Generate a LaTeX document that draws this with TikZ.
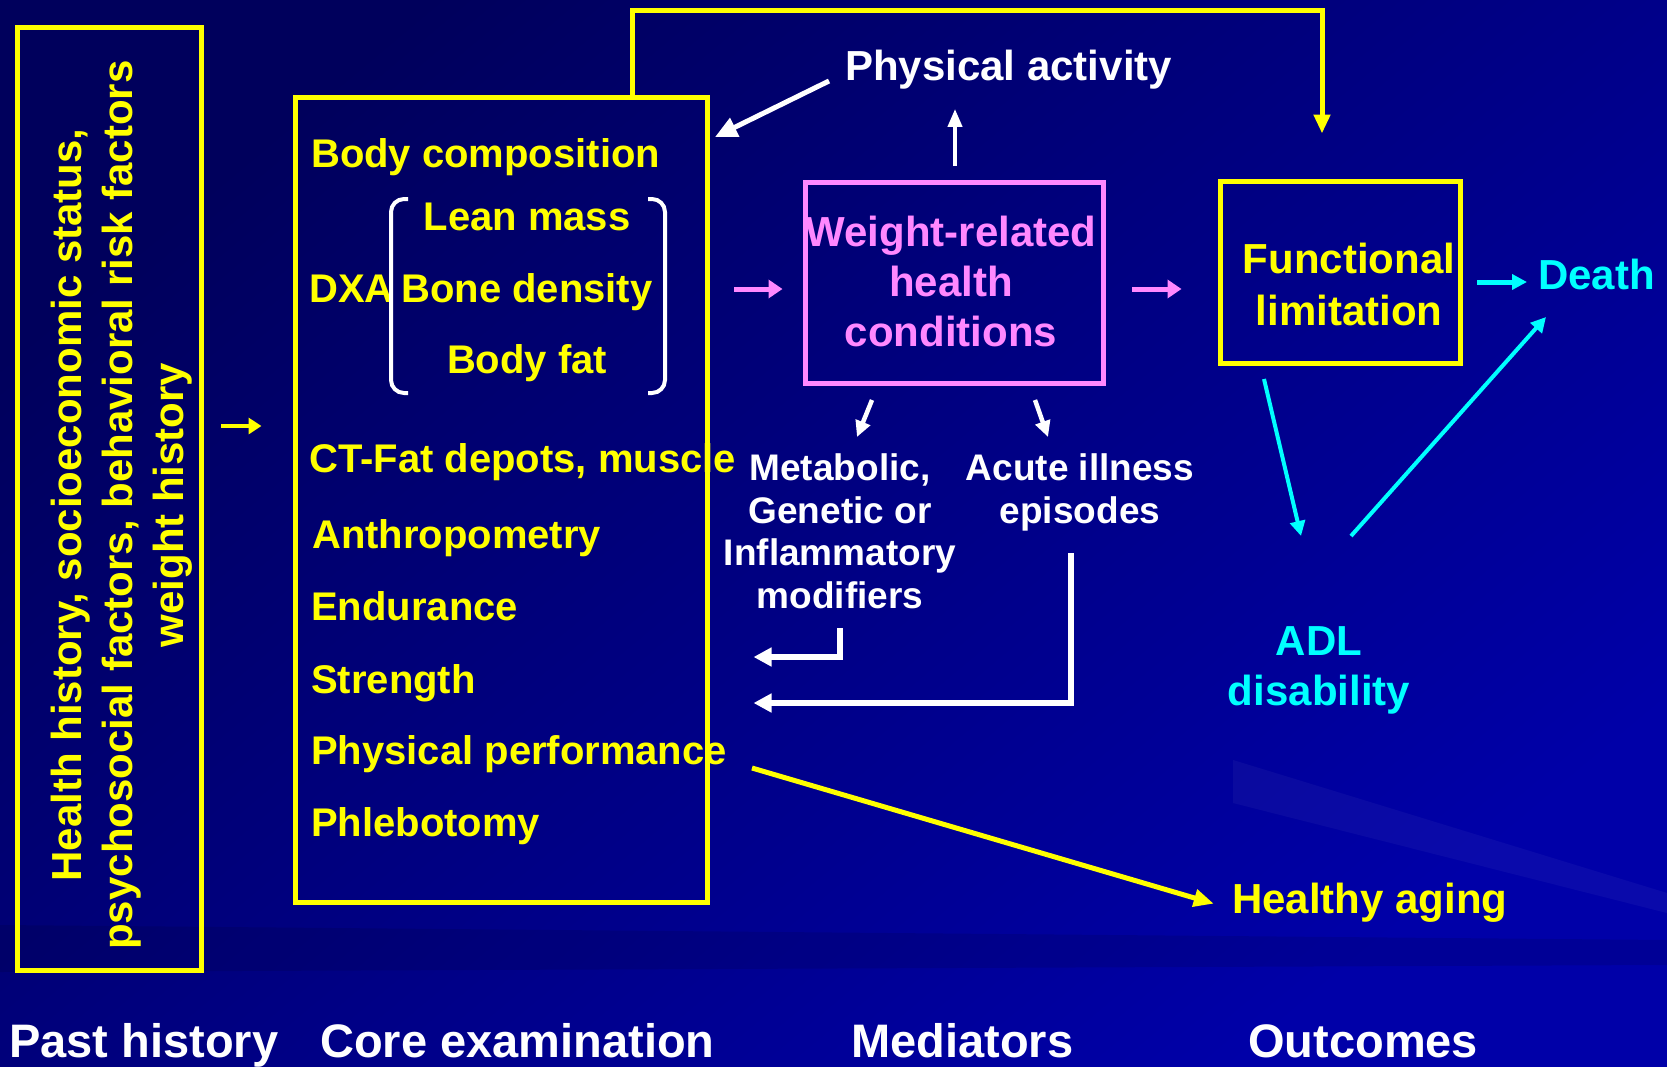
\documentclass[tikz,border=0pt]{standalone}
\usepackage{fontspec}
\setmainfont{Liberation Sans}
\usetikzlibrary{arrows.meta}

\definecolor{bgdark}{RGB}{0,0,92}
\definecolor{bglight}{RGB}{0,0,168}
\definecolor{ylw}{RGB}{255,255,0}
\definecolor{pnk}{RGB}{255,136,255}
\definecolor{cyn}{RGB}{0,255,255}

\tikzset{
  txt/.style={inner sep=0pt, font=\bfseries\fontsize{42}{50}\selectfont},
  item/.style={txt, text=ylw, anchor=base west, font=\bfseries\fontsize{40}{48}\selectfont},
  small/.style={txt, text=white, align=center, anchor=base, font=\bfseries\fontsize{37}{42.5}\selectfont},
  foot/.style={txt, text=white, anchor=base west, font=\bfseries\fontsize{47}{56}\selectfont},
  box/.style={draw=#1, line width=5pt, inner sep=0pt},
  warr/.style={draw=white, line width=#1, -{Triangle[length=18pt,width=18pt]}},
  yarr/.style={draw=ylw, line width=5pt, -{Triangle[length=19pt,width=16pt]}},
  parr/.style={draw=pnk, line width=5pt, -{Triangle[length=14pt,width=18pt]}},
  carr/.style={draw=cyn, line width=4pt, -{Triangle[length=15pt,width=15pt]}},
}

\begin{document}
\begin{tikzpicture}[x=1pt, y=-1pt]
  \shade[top color=bgdark, bottom color=bglight, shading angle=40] (0,0) rectangle (1667,1066);
  \fill[white, opacity=0.04] (1233,760) -- (1667,893) -- (1667,913) -- (1233,803) -- cycle;
  \fill[black, opacity=0.1] (0,925) -- (1667,940) -- (1667,965) -- (0,972) -- cycle;

  % boxes
  \node[box=ylw, minimum width=184pt, minimum height=943pt] (hist) at (109,498.5) {};
  \node[box=ylw, minimum width=412pt, minimum height=805pt] (core) at (501,499.5) {};
  \node[box=pnk, minimum width=298pt, minimum height=201pt] (weight) at (954,282.5) {};
  \node[box=ylw, minimum width=240pt, minimum height=182pt] (func) at (1340,272) {};

  \node[txt, text=ylw, rotate=90, align=center, font=\bfseries\fontsize{42}{51}\selectfont] (histtext) at (122,505)
    {Health history, socioeconomic status,\\psychosocial factors, behavioral risk factors\\weight history};

  \node[item] (bodycomp) at (311,167) {Body composition};
  \node[item, anchor=base] (lean) at (527,230) {Lean mass};
  \node[item] (dxa) at (309,302) {DXA};
  \node[item, anchor=base] (bone) at (527,302) {Bone density};
  \node[item, anchor=base] (fat) at (527,373) {Body fat};
  \node[item] (ct) at (309,472) {CT-Fat depots, muscle};
  \node[item] (anthro) at (312,548) {Anthropometry};
  \node[item] (endur) at (311,620) {Endurance};
  \node[item] (strength) at (311,693) {Strength};
  \node[item] (perf) at (311,764) {Physical performance};
  \node[item] (phleb) at (311,836) {Phlebotomy};

  \draw[white, line width=4pt, rounded corners=13pt] (408,199) -- (391,199) -- (391,393) -- (408,393);
  \draw[white, line width=4pt, rounded corners=13pt] (648,199) -- (665,199) -- (665,393) -- (648,393);

  \node[txt, text=white, anchor=base west] (activity) at (845,80) {Physical activity};
  \node[txt, text=pnk, align=center, anchor=base] (weighttext) at (951,346) {Weight-related\\health\\conditions};
  \node[small] (modif) at (840,608) {Metabolic,\\Genetic or\\Inflammatory\\modifiers};
  \node[small] (acute) at (1080,523) {Acute illness\\episodes};
  \node[txt, text=ylw, align=center, anchor=base, font=\bfseries\fontsize{42}{52}\selectfont] (functext) at (1349,325) {Functional\\limitation};
  \node[txt, text=cyn, anchor=base west] (death) at (1538,289) {Death};
  \node[txt, text=cyn, align=center, anchor=base] (adl) at (1319,705) {ADL\\disability};
  \node[txt, text=ylw, anchor=base west] (healthy) at (1232,913) {Healthy aging};

  \node[foot] (past) at (9,1057) {Past history};
  \node[foot] (coreexam) at (320,1057) {Core examination};
  \node[foot] (mediators) at (851,1057) {Mediators};
  \node[foot] (outcomes) at (1248,1057) {Outcomes};

  % connectors
  \coordinate (histout) at (221,426);
  \coordinate (actout) at (829,81);
  \coordinate (actin) at (715,137);
  \coordinate (wup) at (955,166);
  \coordinate (pinkin) at (734,289);
  \coordinate (pinkout) at (1132,289);
  \coordinate (deathin) at (1477,282);
  \coordinate (funcdown) at (1264,379);
  \coordinate (adlin) at (1301,536);
  \coordinate (adlout) at (1351,536);
  \coordinate (deathup) at (1546,317);
  \coordinate (modifin) at (872,400);
  \coordinate (acutein) at (1035,400);
  \coordinate (modifout) at (840,628);
  \coordinate (acuteout) at (1071,553);
  \coordinate (perfout) at (752,768);

  \draw[yarr, line width=4pt, -{Triangle[length=13pt,width=16pt]}] (histout) -- (histout -| core.west) [shorten >=31pt];
  \draw[yarr] (core.north -| 632,0) -- (632,10) -| (func.north -| 1322,0) [shorten >=45pt];
  \draw[warr=5pt, -{Triangle[length=22pt,width=20pt]}] (actout) -- (actin);
  \draw[warr=4pt, -{Triangle[length=18pt,width=14pt]}] (wup) -- (activity.south -| wup) [shorten >=20pt];
  \draw[parr] (pinkin) -- (weight.west |- pinkin) [shorten >=20pt];
  \draw[parr] (pinkout) -- (func.west |- pinkout) [shorten >=36pt];
  \draw[carr, line width=5pt] (deathin) -- (death.west |- deathin) [shorten >=11pt];
  \draw[carr] (funcdown) -- (adlin);
  \draw[carr] (adlout) -- (deathup);
  \draw[warr=4.5pt, -{Triangle[length=16pt,width=15pt]}] (modifin) -- (857,437);
  \draw[warr=4.5pt, -{Triangle[length=16pt,width=15pt]}] (acutein) -- (1048,437);
  \draw[warr=5.5pt] (modifout) |- (core.east |- 0,657) [shorten >=44pt];
  \draw[warr=5.5pt] (acuteout) |- (core.east |- 0,703) [shorten >=44pt];
  \draw[yarr, -{Triangle[length=20pt,width=17pt]}] (perfout) -- (healthy.west |- 0,909) [shorten >=19pt];
\end{tikzpicture}
\end{document}
